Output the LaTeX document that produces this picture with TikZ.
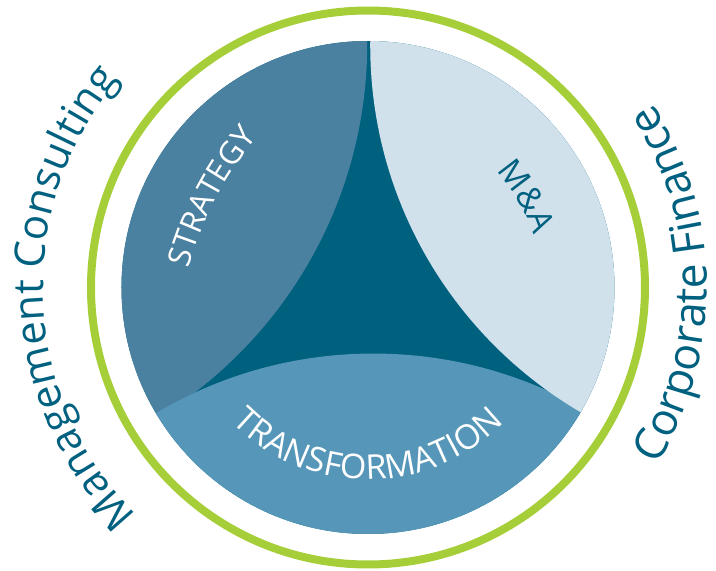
\documentclass[tikz,border=0pt]{standalone}
\usepackage{fontspec}
\setmainfont{Open Sans}
\usepackage{tikz}
\usetikzlibrary{decorations.text}

\definecolor{ringgreen}{HTML}{A6CE39}
\definecolor{coreblue}{HTML}{00617F}
\definecolor{stratblue}{HTML}{4A80A0}
\definecolor{transblue}{HTML}{5697B9}
\definecolor{mablue}{HTML}{D1E1EC}
\definecolor{labelteal}{HTML}{00607F}

\newcommand{\mcfont}{\fontsize{42}{42}\selectfont}
\newcommand{\cffont}{\fontsize{44.5}{44.5}\selectfont}
\newcommand{\stratfont}{\fontsize{31.5}{31.5}\selectfont}
\newcommand{\transfont}{\fontsize{34}{34}\selectfont}
\newcommand{\mafont}{\fontsize{33}{33}\selectfont}

\begin{document}
\begin{tikzpicture}[
			x=1pt, y=1pt,
			ring/.style={
				draw=ringgreen,
				line width=8pt
			},
			outerlabel/.style 2 args={
				decorate,
				decoration={text along path, text align=center,
					text color=labelteal, text={|#1|#2}}
			},
			innerlabel/.style 2 args={
				decorate,
				decoration={text along path, text align=center,
					text color=white, text={|#1|#2}}
			}
			]
			% frame of the picture
			\useasboundingbox (-368,-283.5) rectangle (348,287.5);
			
			% green ring and dark core
			\draw [ring] (0,0) circle (277);
			\fill [coreblue] (0,0) circle (246.5);
			
			% the three segments
			\begin{scope}
				\clip (0,0) circle (246.5);
				\fill [stratblue] (151:503.7) circle (439.8);
				\fill [transblue] (270.625:491.9) circle (425.8);
				\fill [mablue] (29.55:490.8) circle (424.7);
			\end{scope}
			
			% labels inside
			\path [innerlabel={\stratfont}{STRATEGY}]
				([shift={(172.2:350)}]157.5,-74.7) arc [start angle=172.2, end angle=132.2, radius=350];
			\path [outerlabel={\mafont}{M{\&}A}]
				(60:173.5) arc [start angle=60, end angle=0, radius=173.5];
			\path [innerlabel={\transfont}{TRANSFORMATION}]
				(200:192) arc [start angle=200, end angle=340, radius=192];
			
			% labels outside
			\path [outerlabel={\mcfont}{Management Consulting}]
				(230.3:325) arc [start angle=230.3, end angle=134.3, radius=325];
			\path [outerlabel={\cffont}{Corporate Finance}]
				(-45:339) arc [start angle=-45, end angle=46.4, radius=339];
			
			\end{tikzpicture}
\end{document}
